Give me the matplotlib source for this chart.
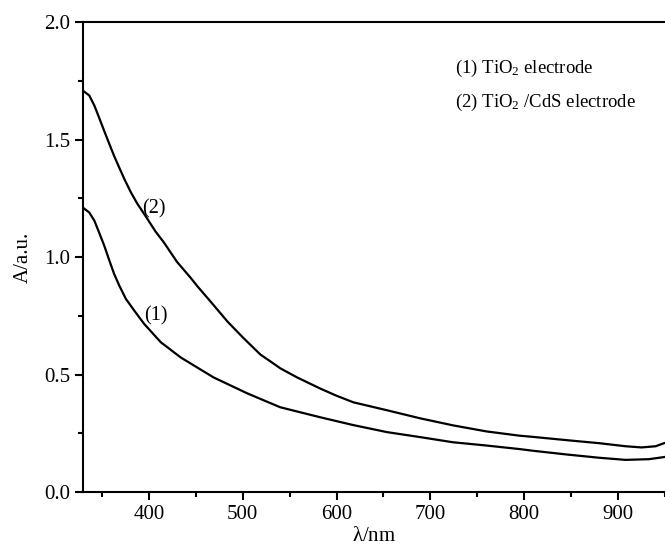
import matplotlib
matplotlib.use("Agg")
import matplotlib.pyplot as plt
from matplotlib.ticker import MultipleLocator, FormatStrFormatter

plt.rcParams['font.family'] = ['Liberation Serif', 'DejaVu Serif']
plt.rcParams['mathtext.fontset'] = 'custom'
plt.rcParams['mathtext.rm'] = 'Liberation Serif'
plt.rcParams['mathtext.it'] = 'Liberation Serif:italic'

# (1) TiO2 electrode
wl_1 = [331, 336.6, 342, 347, 352.5, 358, 363, 368.5, 375.6, 384.4, 395,
        412.7, 434, 469, 505, 540, 583, 618, 654, 689, 724, 760, 795, 809,
        845, 880, 908, 933, 949]
abs_1 = [1.207, 1.19, 1.155, 1.105, 1.049, 0.985, 0.929, 0.879, 0.822, 0.773,
         0.716, 0.638, 0.573, 0.488, 0.42, 0.361, 0.318, 0.285, 0.255, 0.234,
         0.212, 0.198, 0.183, 0.176, 0.16, 0.146, 0.137, 0.14, 0.149]

# (2) TiO2/CdS electrode
wl_2 = [331, 336.6, 342, 347, 352.5, 358, 363, 368.5, 374, 381, 388, 397,
        407, 416, 430, 445, 452, 466, 484, 501, 519, 530, 540, 558, 583, 600,
        618, 654, 689, 724, 760, 795, 809, 845, 880, 908, 925, 940, 949]
abs_2 = [1.705, 1.688, 1.645, 1.594, 1.537, 1.481, 1.431, 1.381, 1.332, 1.275,
         1.226, 1.172, 1.11, 1.063, 0.98, 0.91, 0.875, 0.81, 0.725, 0.655,
         0.585, 0.555, 0.527, 0.488, 0.44, 0.41, 0.382, 0.348, 0.314, 0.284,
         0.258, 0.24, 0.235, 0.221, 0.208, 0.195, 0.19, 0.195, 0.208]

fig = plt.figure(figsize=(6.65, 5.56), dpi=100)
ax = fig.add_axes([0.125, 0.115, 0.875, 0.845])

ax.plot(wl_1, abs_1, '-k', linewidth=1.6)
ax.plot(wl_2, abs_2, '-k', linewidth=1.6)

ax.set_xlim(330, 950)
ax.set_ylim(0, 2.0)
ax.xaxis.set_major_locator(MultipleLocator(100))
ax.xaxis.set_minor_locator(MultipleLocator(50))
ax.yaxis.set_major_locator(MultipleLocator(0.5))
ax.yaxis.set_minor_locator(MultipleLocator(0.25))
ax.yaxis.set_major_formatter(FormatStrFormatter('%.1f'))

ax.spines['right'].set_visible(False)
for s in ['left', 'bottom', 'top']:
    ax.spines[s].set_linewidth(1.5)
ax.tick_params(which='major', direction='out', length=6, width=1.5, labelsize=15)
ax.tick_params(which='minor', direction='out', length=3.5, width=1.5)
ax.tick_params(top=False, right=False)

ax.set_xlabel(r'$\mathrm{\lambda}$/nm', fontsize=15, labelpad=2)
ax.set_ylabel('A/a.u.', fontsize=15, labelpad=8)

ax.text(408, 0.75, '(1)', fontsize=14.5, ha='center', va='center')
ax.text(405, 1.205, '(2)', fontsize=14.5, ha='center', va='center')

ax.text(0.639, 0.902, r'(1) TiO$_2$ electrode', transform=ax.transAxes,
        fontsize=13.5, va='center')
ax.text(0.639, 0.83, r'(2) TiO$_2$ /CdS electrode', transform=ax.transAxes,
        fontsize=13.5, va='center')

fig.savefig('out.png', dpi=100)
